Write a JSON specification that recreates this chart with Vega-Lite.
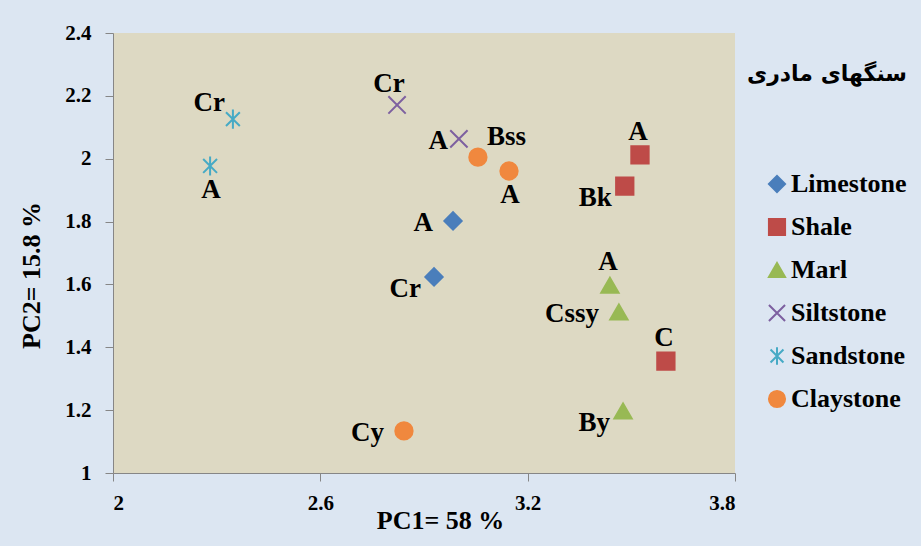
{
  "$schema": "https://vega.github.io/schema/vega-lite/v6.json",
  "width": 622,
  "height": 440,
  "autosize": {"type": "none"},
  "padding": {"left": 113, "top": 33, "right": 186, "bottom": 73},
  "background": "#DCE6F2",
  "config": {"view": {"fill": "#DDD9C3", "stroke": null}, "font": "Liberation Serif"},
  "data": {"values": [
    {"id": "Limestone-A", "rock": "Limestone", "label": "A", "pc1": 2.984, "pc2": 1.802},
    {"id": "Limestone-Cr", "rock": "Limestone", "label": "Cr", "pc1": 2.929, "pc2": 1.624},
    {"id": "Shale-A", "rock": "Shale", "label": "A", "pc1": 3.525, "pc2": 2.012},
    {"id": "Shale-Bk", "rock": "Shale", "label": "Bk", "pc1": 3.481, "pc2": 1.913},
    {"id": "Shale-C", "rock": "Shale", "label": "C", "pc1": 3.6, "pc2": 1.356},
    {"id": "Marl-A", "rock": "Marl", "label": "A", "pc1": 3.438, "pc2": 1.597},
    {"id": "Marl-Cssy", "rock": "Marl", "label": "Cssy", "pc1": 3.464, "pc2": 1.512},
    {"id": "Marl-By", "rock": "Marl", "label": "By", "pc1": 3.476, "pc2": 1.197},
    {"id": "Siltstone-Cr", "rock": "Siltstone", "label": "Cr", "pc1": 2.822, "pc2": 2.171},
    {"id": "Siltstone-A", "rock": "Siltstone", "label": "A", "pc1": 3.001, "pc2": 2.063},
    {"id": "Sandstone-Cr", "rock": "Sandstone", "label": "Cr", "pc1": 2.347, "pc2": 2.126},
    {"id": "Sandstone-A", "rock": "Sandstone", "label": "A", "pc1": 2.281, "pc2": 1.977},
    {"id": "Claystone-Bss", "rock": "Claystone", "label": "Bss", "pc1": 3.056, "pc2": 2.005},
    {"id": "Claystone-A", "rock": "Claystone", "label": "A", "pc1": 3.146, "pc2": 1.961},
    {"id": "Claystone-Cy", "rock": "Claystone", "label": "Cy", "pc1": 2.842, "pc2": 1.134}
  ]},
  "encoding": {
    "x": {"field": "pc1", "type": "quantitative",
      "scale": {"domain": [2, 3.8], "nice": false, "zero": false},
      "axis": {"values": [2, 2.6, 3.2, 3.8], "format": "~g", "grid": false,
        "domainColor": "#868686", "tickColor": "#868686", "tickSize": 8, "labelPadding": 11,
        "labelFont": "Times New Roman, Liberation Serif, serif", "labelFontSize": 21, "labelFontWeight": "bold", "labelColor": "#000000",
        "title": "PC1= 58 %", "titleFont": "Times New Roman, Liberation Serif, serif", "titleFontSize": 26, "titleFontWeight": "bold", "titleColor": "#000000",
        "titleX": 327, "titleY": 47, "titleBaseline": "middle", "titleAnchor": null, "titleAlign": "center"}},
    "y": {"field": "pc2", "type": "quantitative",
      "scale": {"domain": [1, 2.4], "nice": false, "zero": false},
      "axis": {"values": [1, 1.2, 1.4, 1.6, 1.8, 2, 2.2, 2.4], "format": "~g", "grid": false,
        "domainColor": "#868686", "tickColor": "#868686", "tickSize": 8, "labelPadding": 14,
        "labelFont": "Times New Roman, Liberation Serif, serif", "labelFontSize": 21, "labelFontWeight": "bold", "labelColor": "#000000",
        "title": "PC2= 15.8 %", "titleFont": "Times New Roman, Liberation Serif, serif", "titleFontSize": 26, "titleFontWeight": "bold", "titleColor": "#000000",
        "titleX": -82, "titleY": 242, "titleBaseline": "middle", "titleAngle": -90, "titleAlign": "center"}}
  },
  "layer": [
    {
      "mark": {"type": "point", "filled": true, "size": 300, "strokeWidth": 2, "opacity": 1},
      "encoding": {
        "fill": {"field": "rock", "type": "nominal", "title": "سنگهای مادری",
          "scale": {"domain": ["Limestone", "Shale", "Marl", "Siltstone", "Sandstone", "Claystone"],
            "range": ["#4A7EBB", "#BE4B48", "#98B954", "#7D60A0", "#46AAC5", "#F0883E"]},
          "legend": {"orient": "none", "legendX": 634, "legendY": 31, "padding": 0,
            "titleFont": "DejaVu Sans", "titleFontSize": 22, "titleFontWeight": "bold", "titleColor": "#000000",
            "titleAnchor": "end", "titlePadding": 85,
            "labelFont": "Times New Roman, Liberation Serif, serif", "labelFontSize": 26, "labelFontWeight": "bold", "labelColor": "#000000",
            "labelOffset": 1, "rowPadding": 17, "symbolSize": 260, "symbolStrokeWidth": 2, "symbolOpacity": 1}},
        "stroke": {"field": "rock", "type": "nominal", "title": "سنگهای مادری",
          "scale": {"domain": ["Limestone", "Shale", "Marl", "Siltstone", "Sandstone", "Claystone"],
            "range": ["#4A7EBB", "#BE4B48", "#98B954", "#7D60A0", "#46AAC5", "#F0883E"]}},
        "shape": {"field": "rock", "type": "nominal", "title": "سنگهای مادری",
          "scale": {"domain": ["Limestone", "Shale", "Marl", "Siltstone", "Sandstone", "Claystone"],
            "range": ["diamond", "square", "triangle-up", "M-1,-1L1,1M-1,1L1,-1",
              "M0,-1.1L0,1.1M-0.8,-0.8L0.8,0.8M-0.8,0.8L0.8,-0.8", "circle"]}}
      }
    },
    {
      "transform": [{"filter": {"field": "id", "oneOf": ["Limestone-A", "Marl-Cssy", "Claystone-Cy"]}}],
      "mark": {"type": "text", "align": "right", "baseline": "middle", "dx": -20, "dy": 2, "fontSize": 27, "fontWeight": "bold", "font": "Times New Roman, Liberation Serif, serif", "color": "#000000"},
      "encoding": {"text": {"field": "label"}}
    },
    {
      "transform": [{"filter": {"field": "id", "oneOf": ["Siltstone-A"]}}],
      "mark": {"type": "text", "align": "right", "baseline": "middle", "dx": -11, "dy": 2, "fontSize": 27, "fontWeight": "bold", "font": "Times New Roman, Liberation Serif, serif", "color": "#000000"},
      "encoding": {"text": {"field": "label"}}
    },
    {
      "transform": [{"filter": {"field": "id", "oneOf": ["Limestone-Cr", "Shale-Bk", "Marl-By"]}}],
      "mark": {"type": "text", "align": "right", "baseline": "middle", "dx": -13, "dy": 12, "fontSize": 27, "fontWeight": "bold", "font": "Times New Roman, Liberation Serif, serif", "color": "#000000"},
      "encoding": {"text": {"field": "label"}}
    },
    {
      "transform": [{"filter": {"field": "id", "oneOf": ["Shale-A", "Shale-C", "Marl-A"]}}],
      "mark": {"type": "text", "align": "center", "baseline": "middle", "dx": -2, "dy": -23, "fontSize": 27, "fontWeight": "bold", "font": "Times New Roman, Liberation Serif, serif", "color": "#000000"},
      "encoding": {"text": {"field": "label"}}
    },
    {
      "transform": [{"filter": {"field": "id", "oneOf": ["Siltstone-Cr"]}}],
      "mark": {"type": "text", "align": "center", "baseline": "middle", "dx": -8, "dy": -21, "fontSize": 27, "fontWeight": "bold", "font": "Times New Roman, Liberation Serif, serif", "color": "#000000"},
      "encoding": {"text": {"field": "label"}}
    },
    {
      "transform": [{"filter": {"field": "id", "oneOf": ["Sandstone-Cr"]}}],
      "mark": {"type": "text", "align": "right", "baseline": "middle", "dx": -8, "dy": -16, "fontSize": 27, "fontWeight": "bold", "font": "Times New Roman, Liberation Serif, serif", "color": "#000000"},
      "encoding": {"text": {"field": "label"}}
    },
    {
      "transform": [{"filter": {"field": "id", "oneOf": ["Sandstone-A", "Claystone-A"]}}],
      "mark": {"type": "text", "align": "center", "baseline": "middle", "dx": 1, "dy": 24, "fontSize": 27, "fontWeight": "bold", "font": "Times New Roman, Liberation Serif, serif", "color": "#000000"},
      "encoding": {"text": {"field": "label"}}
    },
    {
      "transform": [{"filter": {"field": "id", "oneOf": ["Claystone-Bss"]}}],
      "mark": {"type": "text", "align": "left", "baseline": "middle", "dx": 9, "dy": -20, "fontSize": 27, "fontWeight": "bold", "font": "Times New Roman, Liberation Serif, serif", "color": "#000000"},
      "encoding": {"text": {"field": "label"}}
    }
  ]
}
